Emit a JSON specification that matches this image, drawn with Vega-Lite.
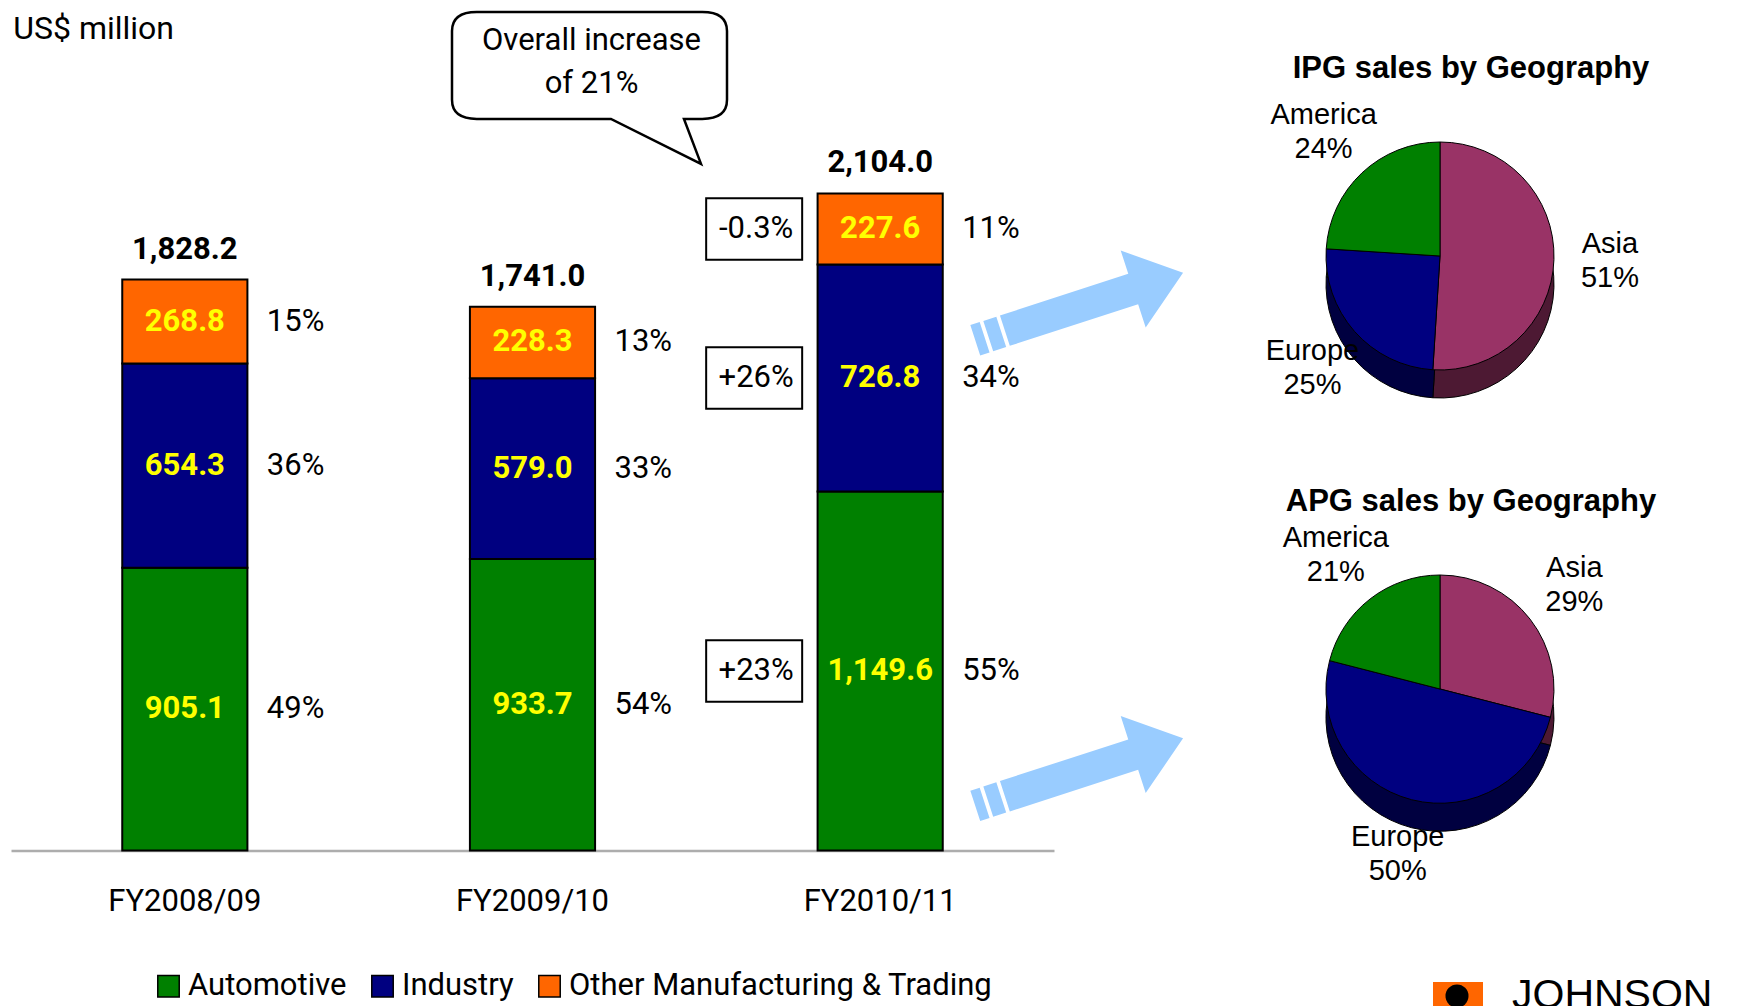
{
  "$schema": "https://vega.github.io/schema/vega-lite/v6.json",
  "background": "white",
  "padding": {"left": 11, "top": 6.5, "right": 0, "bottom": 0},
  "autosize": {"type": "pad"},
  "bounds": "flush",
  "spacing": 106,
  "config": {"view": {"stroke": null}, "font": "Roboto"},
  "resolve": {"scale": {"color": "independent"}, "legend": {"color": "independent"}},
  "hconcat": [
    {
      "width": 1043,
      "height": 840,
      "data": {"values": [
        {"year": "FY2008/09", "segment": "Automotive", "value": 905.1, "share": 0.49, "growth": null},
        {"year": "FY2008/09", "segment": "Industry", "value": 654.3, "share": 0.36, "growth": null},
        {"year": "FY2008/09", "segment": "Other Manufacturing & Trading", "value": 268.8, "share": 0.15, "growth": null},
        {"year": "FY2009/10", "segment": "Automotive", "value": 933.7, "share": 0.54, "growth": null},
        {"year": "FY2009/10", "segment": "Industry", "value": 579.0, "share": 0.33, "growth": null},
        {"year": "FY2009/10", "segment": "Other Manufacturing & Trading", "value": 228.3, "share": 0.13, "growth": null},
        {"year": "FY2010/11", "segment": "Automotive", "value": 1149.6, "share": 0.55, "growth": "+23%"},
        {"year": "FY2010/11", "segment": "Industry", "value": 726.8, "share": 0.34, "growth": "+26%"},
        {"year": "FY2010/11", "segment": "Other Manufacturing & Trading", "value": 227.6, "share": 0.11, "growth": "-0.3%"}
      ]},
      "transform": [
        {"stack": "value", "groupby": ["year"], "sort": [{"field": "segment", "order": "ascending"}], "as": ["v0", "v1"]}
      ],
      "encoding": {
        "x": {"field": "year", "type": "nominal", "sort": null,
          "scale": {"paddingInner": 0.64, "paddingOuter": 0.32},
          "axis": {"title": null, "labelAngle": 0, "labelFontSize": 31, "labelFont": "Roboto", "labelColor": "black",
            "labelPadding": 36, "ticks": false, "tickSize": 0, "domainColor": "#ADADAD", "domainWidth": 2.5}}
      },
      "layer": [
        {
          "mark": {"type": "bar", "stroke": "black", "strokeWidth": 2},
          "encoding": {
            "y": {"field": "v0", "type": "quantitative", "scale": {"domain": [0, 2690], "nice": false, "zero": false}, "axis": null},
            "y2": {"field": "v1"},
            "color": {"field": "segment", "type": "nominal",
              "scale": {"domain": ["Automotive", "Industry", "Other Manufacturing & Trading"], "range": ["#008000", "#000080", "#FF6600"]},
              "legend": {"orient": "none", "legendX": 142, "legendY": 960, "direction": "horizontal", "title": null,
                "symbolType": "square", "symbolSize": 460, "symbolStrokeColor": "black", "symbolStrokeWidth": 1.5, "symbolOpacity": 1,
                "labelFontSize": 31, "labelFont": "Roboto", "labelColor": "black", "labelLimit": 0, "columnPadding": 20, "labelOffset": 4}}
          }
        },
        {
          "transform": [
            {"fold": ["v0", "v1"], "as": ["edge", "pos"]},
            {"aggregate": [{"op": "mean", "field": "pos", "as": "mid"}], "groupby": ["year", "segment", "value", "share", "growth"]}
          ],
          "layer": [
            {
              "mark": {"type": "text", "font": "Roboto", "fontSize": 31, "fontWeight": "bold", "color": "#FFFF00"},
              "encoding": {
                "y": {"field": "mid", "type": "quantitative", "scale": {"domain": [0, 2690], "nice": false, "zero": false}, "axis": null},
                "text": {"field": "value", "type": "quantitative", "format": ",.1f"}
              }
            },
            {
              "mark": {"type": "text", "font": "Roboto", "fontSize": 31, "align": "left", "dx": 82, "color": "black"},
              "encoding": {
                "y": {"field": "mid", "type": "quantitative", "scale": {"domain": [0, 2690], "nice": false, "zero": false}, "axis": null},
                "text": {"field": "share", "type": "quantitative", "format": ".0%"}
              }
            },
            {
              "transform": [{"filter": "datum.growth != null"}],
              "layer": [
                {
                  "mark": {"type": "point", "shape": "M-1,-0.64L1,-0.64L1,0.64L-1,0.64Z", "size": 9216, "filled": true,
                    "fill": "white", "stroke": "black", "strokeWidth": 2, "opacity": 1, "xOffset": -126},
                  "encoding": {
                    "y": {"field": "mid", "type": "quantitative", "scale": {"domain": [0, 2690], "nice": false, "zero": false}, "axis": null}
                  }
                },
                {
                  "mark": {"type": "text", "font": "Roboto", "fontSize": 31, "dx": -124, "color": "black"},
                  "encoding": {
                    "y": {"field": "mid", "type": "quantitative", "scale": {"domain": [0, 2690], "nice": false, "zero": false}, "axis": null},
                    "text": {"field": "growth", "type": "nominal"}
                  }
                }
              ]
            }
          ]
        },
        {
          "transform": [{"aggregate": [{"op": "sum", "field": "value", "as": "total"}], "groupby": ["year"]}],
          "mark": {"type": "text", "font": "Roboto", "fontSize": 31, "fontWeight": "bold", "dy": -30, "color": "black"},
          "encoding": {
            "y": {"field": "total", "type": "quantitative", "scale": {"domain": [0, 2690], "nice": false, "zero": false}, "axis": null},
            "text": {"field": "total", "type": "quantitative", "format": ",.1f"}
          }
        },
        {
          "data": {"values": [{}]},
          "mark": {"type": "text", "font": "Roboto", "fontSize": 32, "align": "left", "dx": -109, "color": "black"},
          "encoding": {
            "x": {"datum": "FY2008/09", "bandPosition": 0},
            "y": {"datum": 2631, "type": "quantitative", "scale": {"domain": [0, 2690], "nice": false, "zero": false}, "axis": null},
            "text": {"value": "US$ million"}
          }
        },
        {
          "data": {"values": [{}]},
          "layer": [
            {
              "mark": {"type": "point", "shape": "M-0.82,-0.389L0.82,-0.389Q1,-0.389 1,-0.25L1,0.25Q1,0.389 0.82,0.389L0.687,0.389L0.811,0.716L0.156,0.389L-0.82,0.389Q-1,0.389 -1,0.25L-1,-0.25Q-1,-0.389 -0.82,-0.389Z",
                "size": 75625, "filled": true, "fill": "white", "stroke": "black", "strokeWidth": 2.5, "opacity": 1, "xOffset": 57},
              "encoding": {
                "x": {"datum": "FY2009/10"},
                "y": {"datum": 2514, "type": "quantitative", "scale": {"domain": [0, 2690], "nice": false, "zero": false}, "axis": null}
              }
            },
            {
              "mark": {"type": "text", "font": "Roboto", "fontSize": 31, "lineHeight": 43, "dx": 59, "dy": -24, "color": "black"},
              "encoding": {
                "x": {"datum": "FY2009/10"},
                "y": {"datum": 2514, "type": "quantitative", "scale": {"domain": [0, 2690], "nice": false, "zero": false}, "axis": null},
                "text": {"value": ["Overall increase", "of 21%"]}
              }
            }
          ]
        },
        {
          "data": {"values": [{}]},
          "mark": {"type": "point", "shape": "M-1,-0.146L-0.91,-0.146L-0.91,0.146L-1,0.146Z M-0.875,-0.146L-0.75,-0.146L-0.75,0.146L-0.875,0.146Z M-0.715,-0.146L0.52,-0.146L0.52,-0.37L1,0L0.52,0.37L0.52,0.146L-0.715,0.146Z",
            "size": 47742, "filled": true, "fill": "#99CCFF", "strokeWidth": 0, "opacity": 1, "angle": -18, "xOffset": 199},
          "encoding": {
            "x": {"datum": "FY2010/11"},
            "y": {"datum": 1742, "type": "quantitative", "scale": {"domain": [0, 2690], "nice": false, "zero": false}, "axis": null}
          }
        },
        {
          "data": {"values": [{}]},
          "mark": {"type": "point", "shape": "M-1,-0.146L-0.91,-0.146L-0.91,0.146L-1,0.146Z M-0.875,-0.146L-0.75,-0.146L-0.75,0.146L-0.875,0.146Z M-0.715,-0.146L0.52,-0.146L0.52,-0.37L1,0L0.52,0.37L0.52,0.146L-0.715,0.146Z",
            "size": 47742, "filled": true, "fill": "#99CCFF", "strokeWidth": 0, "opacity": 1, "angle": -18, "xOffset": 199},
          "encoding": {
            "x": {"datum": "FY2010/11"},
            "y": {"datum": 251, "type": "quantitative", "scale": {"domain": [0, 2690], "nice": false, "zero": false}, "axis": null}
          }
        }
      ]
    },
    {
      "width": 560,
      "height": 999.5,
      "data": {"values": [
        {"chart": "IPG sales by Geography", "region": "Asia", "share": 0.51, "seq": 1},
        {"chart": "IPG sales by Geography", "region": "Europe", "share": 0.25, "seq": 2},
        {"chart": "IPG sales by Geography", "region": "America", "share": 0.24, "seq": 3},
        {"chart": "APG sales by Geography", "region": "Asia", "share": 0.29, "seq": 1},
        {"chart": "APG sales by Geography", "region": "Europe", "share": 0.50, "seq": 2},
        {"chart": "APG sales by Geography", "region": "America", "share": 0.21, "seq": 3}
      ]},
      "transform": [
        {"stack": "share", "groupby": ["chart"], "sort": [{"field": "seq", "order": "ascending"}], "as": ["p0", "p1"]}
      ],
      "encoding": {
        "y": {"field": "chart", "type": "nominal", "sort": null, "scale": {"type": "point", "range": [245.5, 678.5], "padding": 0}, "axis": null}
      },
      "layer": [
        {
          "mark": {"type": "arc", "outerRadius": 114, "stroke": "black", "strokeWidth": 1, "yOffset": 28},
          "encoding": {
            "theta": {"field": "p0", "type": "quantitative", "scale": {"domain": [0, 1]}},
            "theta2": {"field": "p1"},
            "color": {"field": "region", "type": "nominal", "scale": {"domain": ["Asia", "Europe", "America"], "range": ["#4D1933", "#000040", "#004000"]}, "legend": null}
          }
        },
        {
          "mark": {"type": "arc", "outerRadius": 114, "stroke": "black", "strokeWidth": 1},
          "encoding": {
            "theta": {"field": "p0", "type": "quantitative", "scale": {"domain": [0, 1]}},
            "theta2": {"field": "p1"},
            "color": {"field": "region", "type": "nominal", "scale": {"domain": ["Asia", "Europe", "America"], "range": ["#993366", "#000080", "#008000"]}, "legend": null}
          }
        },
        {
          "transform": [
            {"fold": ["p0", "p1"], "as": ["edge", "pos"]},
            {"aggregate": [{"op": "mean", "field": "pos", "as": "pm"}], "groupby": ["chart", "region", "share"]}
          ],
          "layer": [
            {
              "mark": {"type": "text", "radius": 170, "dy": -17, "font": "Liberation Sans", "fontSize": 29, "color": "black"},
              "encoding": {
                "theta": {"field": "pm", "type": "quantitative", "scale": {"domain": [0, 1]}},
                "text": {"field": "region", "type": "nominal"}
              }
            },
            {
              "mark": {"type": "text", "radius": 170, "dy": 17, "font": "Liberation Sans", "fontSize": 29, "color": "black"},
              "encoding": {
                "theta": {"field": "pm", "type": "quantitative", "scale": {"domain": [0, 1]}},
                "text": {"field": "share", "type": "quantitative", "format": ".0%"}
              }
            }
          ]
        },
        {
          "transform": [{"aggregate": [{"op": "count", "as": "n"}], "groupby": ["chart"]}],
          "mark": {"type": "text", "font": "Liberation Sans", "fontWeight": "bold", "fontSize": 31, "dy": -187, "dx": 31, "color": "black"},
          "encoding": {"text": {"field": "chart", "type": "nominal"}}
        },
        {
          "data": {"values": [{}]},
          "layer": [
            {
              "mark": {"type": "point", "shape": "square", "size": 2500, "filled": true, "fill": "#FF6600", "strokeWidth": 0, "opacity": 1, "xOffset": 18, "yOffset": 318, "clip": true},
              "encoding": {"y": {"datum": "APG sales by Geography"}}
            },
            {
              "mark": {"type": "point", "shape": "circle", "size": 531, "filled": true, "fill": "black", "strokeWidth": 0, "opacity": 1, "xOffset": 17, "yOffset": 307, "clip": true},
              "encoding": {"y": {"datum": "APG sales by Geography"}}
            },
            {
              "mark": {"type": "text", "font": "Liberation Sans", "fontSize": 41, "align": "left", "baseline": "top", "dx": 72, "dy": 287, "color": "black", "clip": true},
              "encoding": {"y": {"datum": "APG sales by Geography"}, "text": {"value": "JOHNSON"}}
            }
          ]
        }
      ],
      "resolve": {"scale": {"color": "independent"}}
    }
  ]
}
